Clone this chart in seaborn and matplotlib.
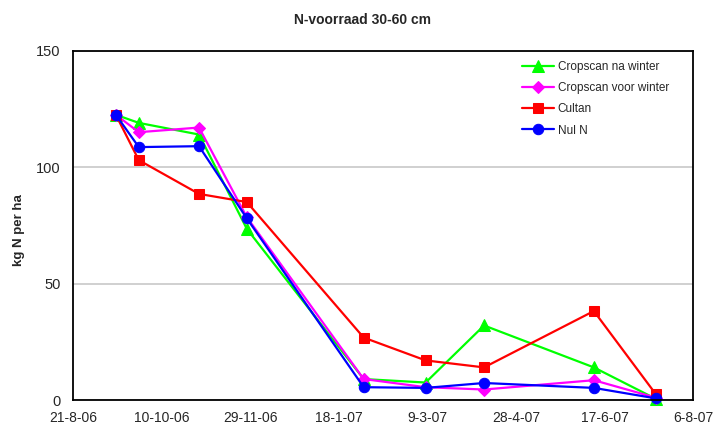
import matplotlib
matplotlib.use("Agg")
import matplotlib.pyplot as plt
import seaborn as sns
import pandas as pd

dates = ["2006-09-14", "2006-09-27", "2006-10-31", "2006-11-27", "2007-02-01",
         "2007-03-08", "2007-04-10", "2007-06-11", "2007-07-16"]
cropscan_na_winter = [122.5, 119, 114, 73.5, 9, 7.5, 32, 14, 0.5]
cropscan_voor_winter = [122.5, 115, 117, 78.5, 9, 5.5, 4.5, 8.5, 1]
cultan = [122.5, 103, 88.5, 85, 26.8, 17, 14, 38.2, 2.5]
nul_n = [122.5, 108.6, 109, 78, 5.5, 5.2, 7.3, 5.2, 0.7]

series_names = ["Cropscan na winter", "Cropscan voor winter", "Cultan", "Nul N"]
series_values = [cropscan_na_winter, cropscan_voor_winter, cultan, nul_n]
colors = ["#00FF00", "#FF00FF", "#FF0000", "#0000FF"]
markers = ["^", "D", "s", "o"]
msizes = [8, 6, 7.5, 7.5]

xtick_start = "2006-08-21"
xtick_end = "2007-08-06"
yticks = [0, 50, 100, 150]

sns.set_theme(style="white")
plt.rcParams['font.family'] = ['Liberation Sans', 'DejaVu Sans']

fig = plt.figure(figsize=(7.18, 4.30), dpi=100)
ax = fig.add_axes([73.3/718, 30/430, (693-73.3)/718, (400-50.7)/430])

for name, vals, c, m, ms in zip(series_names, series_values, colors, markers, msizes):
    df = pd.DataFrame({"date": pd.to_datetime(dates), "value": vals})
    sns.lineplot(data=df, x="date", y="value", ax=ax, color=c, marker=m,
                 markersize=ms, markeredgecolor=c, linewidth=1.6, label=name,
                 clip_on=False)

x0 = pd.Timestamp(xtick_start)
x1 = pd.Timestamp(xtick_end)
ax.set_xlim(x0, x1)
ax.set_ylim(0, 150)
ticks = pd.date_range(x0, x1, freq="50D")
ax.set_xticks(ticks)
ax.set_xticklabels([f"{t.day}-{t.month}-{t.strftime('%y')}" for t in ticks], fontsize=10)
ax.set_yticks(yticks)
ax.set_yticklabels([str(v) for v in yticks], fontsize=10.5)
ax.tick_params(axis="x", direction="in", length=5, width=1, color="black", pad=8)
ax.tick_params(axis="y", length=0, pad=9)
ax.yaxis.grid(True, color="#c8c8c8", linewidth=1.2)
ax.xaxis.grid(False)
for s in ax.spines.values():
    s.set_color("black")
    s.set_linewidth(1.3)

ax.set_xlabel("")
ax.set_ylabel("kg N per ha", fontsize=9.5, fontweight="bold")
ax.yaxis.set_label_coords((25 - 73.3) / 619.7, (400 - 230) / 349.3)
fig.text(363/718, 1 - 20.5/430, "N-voorraad 30-60 cm", ha="center", va="center",
         fontsize=10, fontweight="bold")

leg = ax.legend(loc="upper left", bbox_to_anchor=(521.7/718, 1 - 61/430),
                bbox_transform=fig.transFigure, frameon=False, fontsize=8.5,
                borderpad=0, borderaxespad=0, handlelength=2.7, handletextpad=0.35,
                labelspacing=0.78)

fig.savefig("out.png", dpi=100)
